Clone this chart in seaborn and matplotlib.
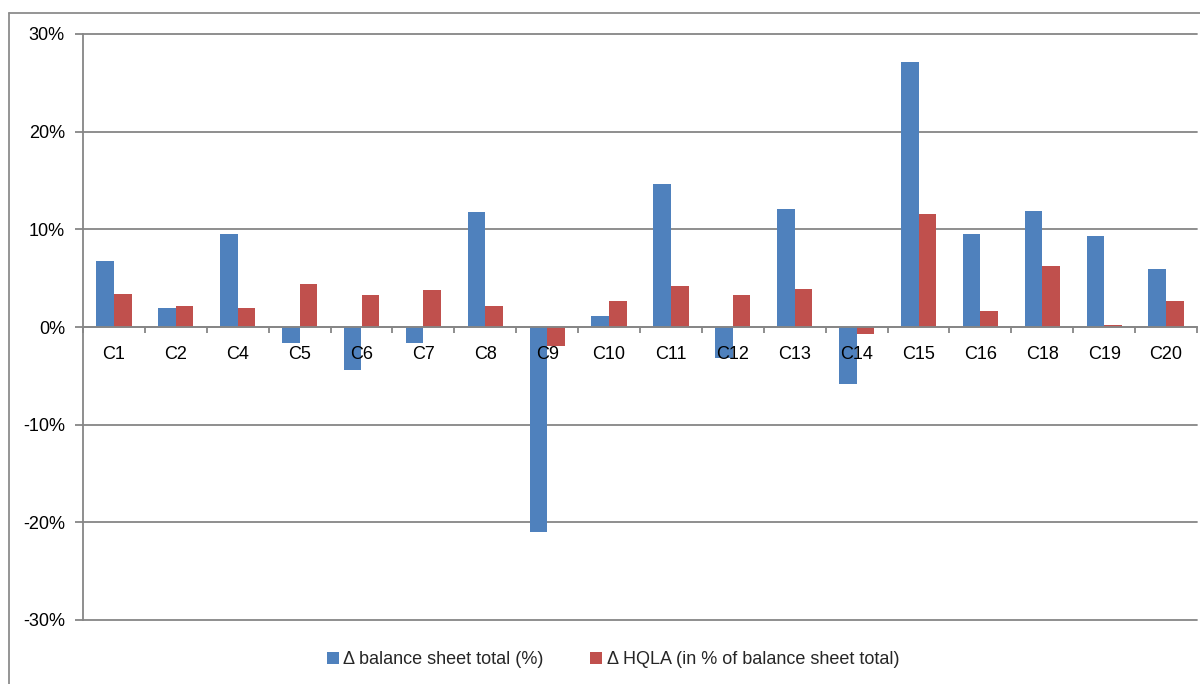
import numpy as np
import pandas as pd
import matplotlib
matplotlib.use("Agg")
import matplotlib.pyplot as plt
from matplotlib.lines import Line2D
from matplotlib.ticker import FuncFormatter
import seaborn as sns

# Data (values in %)
countries = ["C1", "C2", "C4", "C5", "C6", "C7", "C8", "C9", "C10",
             "C11", "C12", "C13", "C14", "C15", "C16", "C18", "C19", "C20"]
balance_sheet = [6.8, 1.9, 9.5, -1.6, -4.4, -1.6, 11.8, -21.0, 1.15,
                 14.6, -3.2, 12.1, -5.8, 27.1, 9.5, 11.9, 9.3, 5.9]
hqla = [3.4, 2.1, 1.9, 4.4, 3.3, 3.8, 2.1, -1.9, 2.7,
        4.2, 3.3, 3.9, -0.7, 11.6, 1.6, 6.2, 0.2, 2.7]
series_names = ["\u0394 balance sheet total (%)",
                "\u0394 HQLA (in % of balance sheet total)"]
colors = ["#4F81BD", "#C0504D"]
y_ticks = [-30, -20, -10, 0, 10, 20, 30]

df = pd.DataFrame({
    "country": countries * 2,
    "value": balance_sheet + hqla,
    "series": [series_names[0]] * len(countries) + [series_names[1]] * len(countries),
})

sns.set_style("white")
plt.rcParams["font.family"] = ["Liberation Sans", "DejaVu Sans"]
plt.rcParams["axes.unicode_minus"] = False

grey = "#868686"

fig = plt.figure(figsize=(12, 6.84), dpi=100)
ax = fig.add_axes([83 / 1200, 1 - 620 / 684, (1197 - 83) / 1200, (620 - 34) / 684])

sns.barplot(data=df, x="country", y="value", hue="series", order=countries,
            hue_order=series_names, palette=colors, saturation=1, width=0.57,
            gap=0, linewidth=0, errorbar=None, ax=ax, legend=True)

ax.set_ylim(-30, 30)
ax.set_xlim(-0.5, len(countries) - 0.5)
ax.set_yticks(y_ticks)
ax.yaxis.set_major_formatter(FuncFormatter(lambda v, p: f"{int(round(v))}%"))
ax.set_xlabel("")
ax.set_ylabel("")

# gridlines behind the bars, axis labels above them
ax.set_axisbelow(False)
ax.grid(False)
for t in y_ticks:
    ax.axhline(t, color=grey, linewidth=1.3, zorder=0.5, clip_on=False)

for s in ["top", "right"]:
    ax.spines[s].set_visible(False)
ax.spines["left"].set_color(grey)
ax.spines["left"].set_linewidth(1.3)
ax.spines["bottom"].set_position(("data", 0))
ax.spines["bottom"].set_color(grey)
ax.spines["bottom"].set_linewidth(1.3)

ax.tick_params(axis="y", which="major", direction="out", length=6, width=1.3,
               color=grey, pad=7, labelsize=13, labelcolor="black", left=True)
ax.tick_params(axis="x", which="major", length=0, pad=14, labelsize=13,
               labelcolor="black")
ax.set_xticks(np.arange(-0.5, len(countries), 1), minor=True)
ax.tick_params(axis="x", which="minor", direction="out", length=4.5, width=1.3,
               color=grey, bottom=True)

handles, labels = ax.get_legend_handles_labels()
ax.get_legend().remove()
fig.legend(handles, labels, loc="center", bbox_to_anchor=(613 / 1200, 1 - 660 / 684),
           ncol=2, frameon=False, fontsize=13, handlelength=0.65, handleheight=0.65,
           handletextpad=0.25, columnspacing=2.6)

# chart area border (top and left edges visible)
fig.add_artist(Line2D([9 / 1200, 1.0], [1 - 13 / 684, 1 - 13 / 684],
                      transform=fig.transFigure, color="#8C8C8C", linewidth=1.3))
fig.add_artist(Line2D([9 / 1200, 9 / 1200], [0, 1 - 13 / 684],
                      transform=fig.transFigure, color="#8C8C8C", linewidth=1.3))

fig.savefig("out.png", dpi=100, facecolor="white")
